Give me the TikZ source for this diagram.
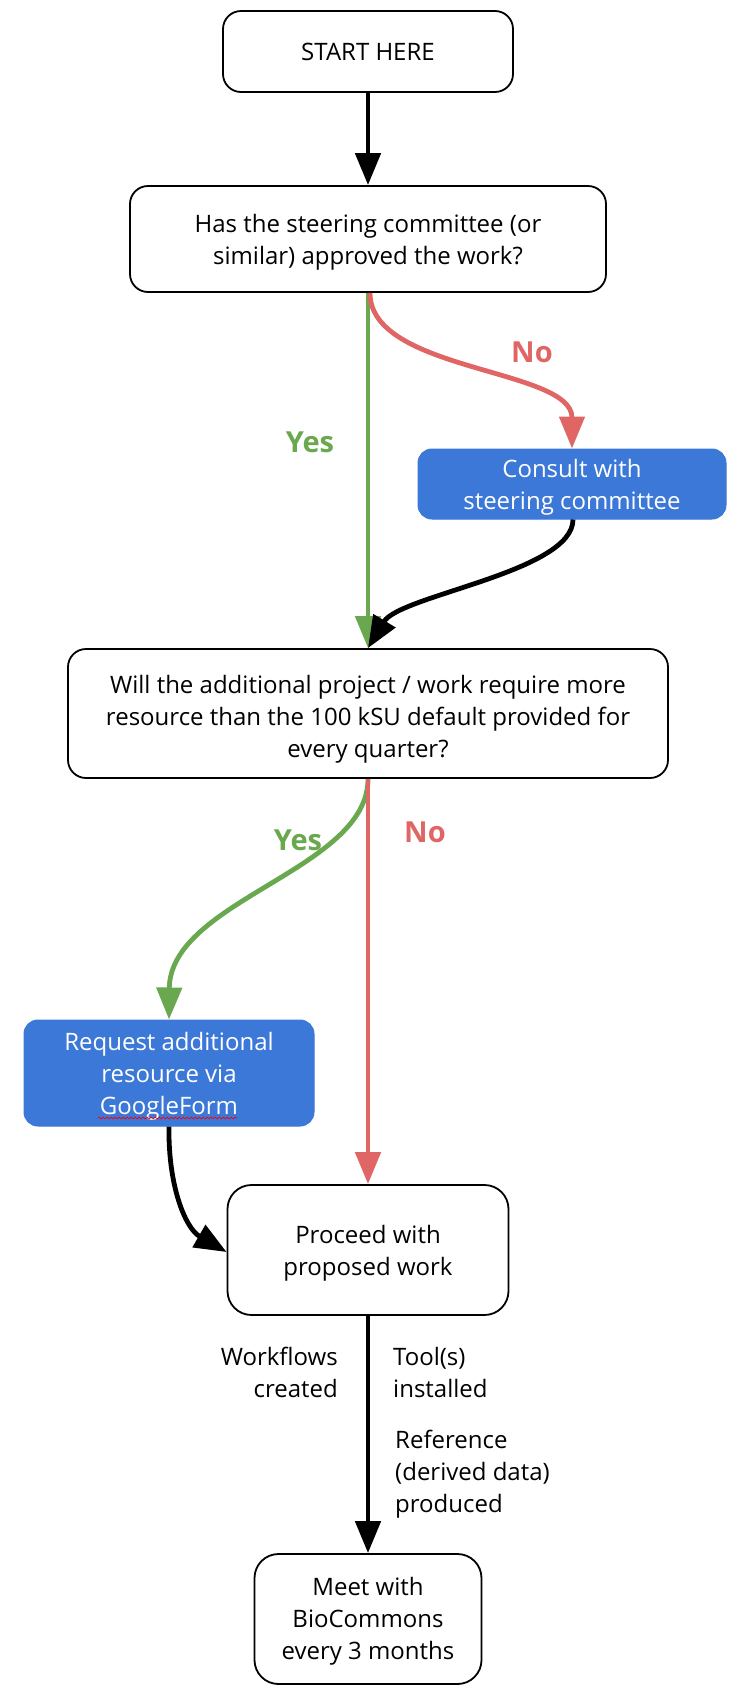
\documentclass[tikz,border=0pt]{standalone}
\usepackage{fontspec}
\setmainfont{Open Sans}
\usetikzlibrary{arrows.meta,decorations.pathmorphing}
\definecolor{ggreen}{HTML}{6AA84F}
\definecolor{gred}{HTML}{E06666}
\definecolor{gblue}{HTML}{3C78D8}
\newcommand\mystrut[1]{\rule{0pt}{#1}}
\begin{document}
\begin{tikzpicture}[x=1pt,y=-1pt,
  every node/.style={font=\fontsize{24}{32}\selectfont},
  box/.style={draw=black, line width=1.8pt, rounded corners=18pt, fill=white, align=center, inner sep=0pt},
  bbox/.style={draw=gblue, fill=gblue, line width=1pt, rounded corners=14pt, text=white, align=center, inner sep=0pt},
  conn/.style={line width=4.8pt, -{Triangle[length=32pt,width=25pt]}},
  lbl/.style={font=\bfseries\fontsize{29}{34}\selectfont},
  note/.style={inner sep=0pt}
]
\useasboundingbox (0,0) rectangle (745,1695);

\node[box, minimum width=290pt, minimum height=81pt] (start) at (368,51.5) {START HERE};
\node[box, minimum width=476pt, minimum height=106pt] (q1) at (368,239) {\mystrut{24.5pt}Has the steering committee (or\\similar) approved the work?};
\node[bbox, minimum width=308pt, minimum height=70pt] (consult) at (572,484) {\mystrut{25pt}Consult with\\steering committee};
\node[box, minimum width=600pt, minimum height=129pt] (q2) at (368,713.5) {\mystrut{30pt}Will the additional project / work require more\\resource than the 100 kSU default provided for\\every quarter?};
\node[bbox, minimum width=290pt, minimum height=106pt] (req) at (169,1073) {\mystrut{24pt}Request additional\\resource via\\GoogleForm};
\node[box, rounded corners=24pt, minimum width=281pt, minimum height=130pt] (proc) at (368,1250) {\mystrut{24.5pt}Proceed with\\proposed work};
\node[box, rounded corners=24pt, minimum width=227pt, minimum height=130pt] (meet) at (368,1619) {\mystrut{22.5pt}Meet with\\BioCommons\\every 3 months};

% spell-check squiggle
\draw[red, line width=0.7pt, decorate, decoration={snake, amplitude=0.9pt, segment length=4pt}] (98,1118) -- (237,1118);

% connectors
\draw[conn] (start.south) -- (q1.north);
\draw[conn, ggreen] (q1.south) -- (q2.north);
\draw[conn, gred] ([xshift=2pt]q1.south) .. controls (370,372) and (572,368) .. (consult.north);
\draw[conn] ([xshift=1pt]consult.south) .. controls (573,572) and (400,595) .. (q2.north);
\draw[conn, ggreen] (q2.south) .. controls (368,870) and (170,900) .. (req.north);
\draw[conn, gred] (q2.south) -- (proc.north);
\draw[conn] (req.south) .. controls (168,1185) and (185,1228) .. ([yshift=-2pt]proc.west);
\draw[conn] (proc.south) -- (meet.north);

% labels
\node[lbl, text=ggreen] (y1) at (310,442) {Yes};
\node[lbl, text=gred] (n1) at (532,352) {No};
\node[lbl, text=ggreen] (y2) at (298,840) {Yes};
\node[lbl, text=gred] (n2) at (425,832) {No};

\node[note, anchor=east, align=right] (wf) at (338,1372) {Workflows\\created};
\node[note, anchor=west, align=left] (tl) at (393,1372) {Tool(s)\\installed};
\node[note, anchor=west, align=left] (rf) at (395,1474) {Reference\\(derived data)\\produced};
\end{tikzpicture}
\end{document}
